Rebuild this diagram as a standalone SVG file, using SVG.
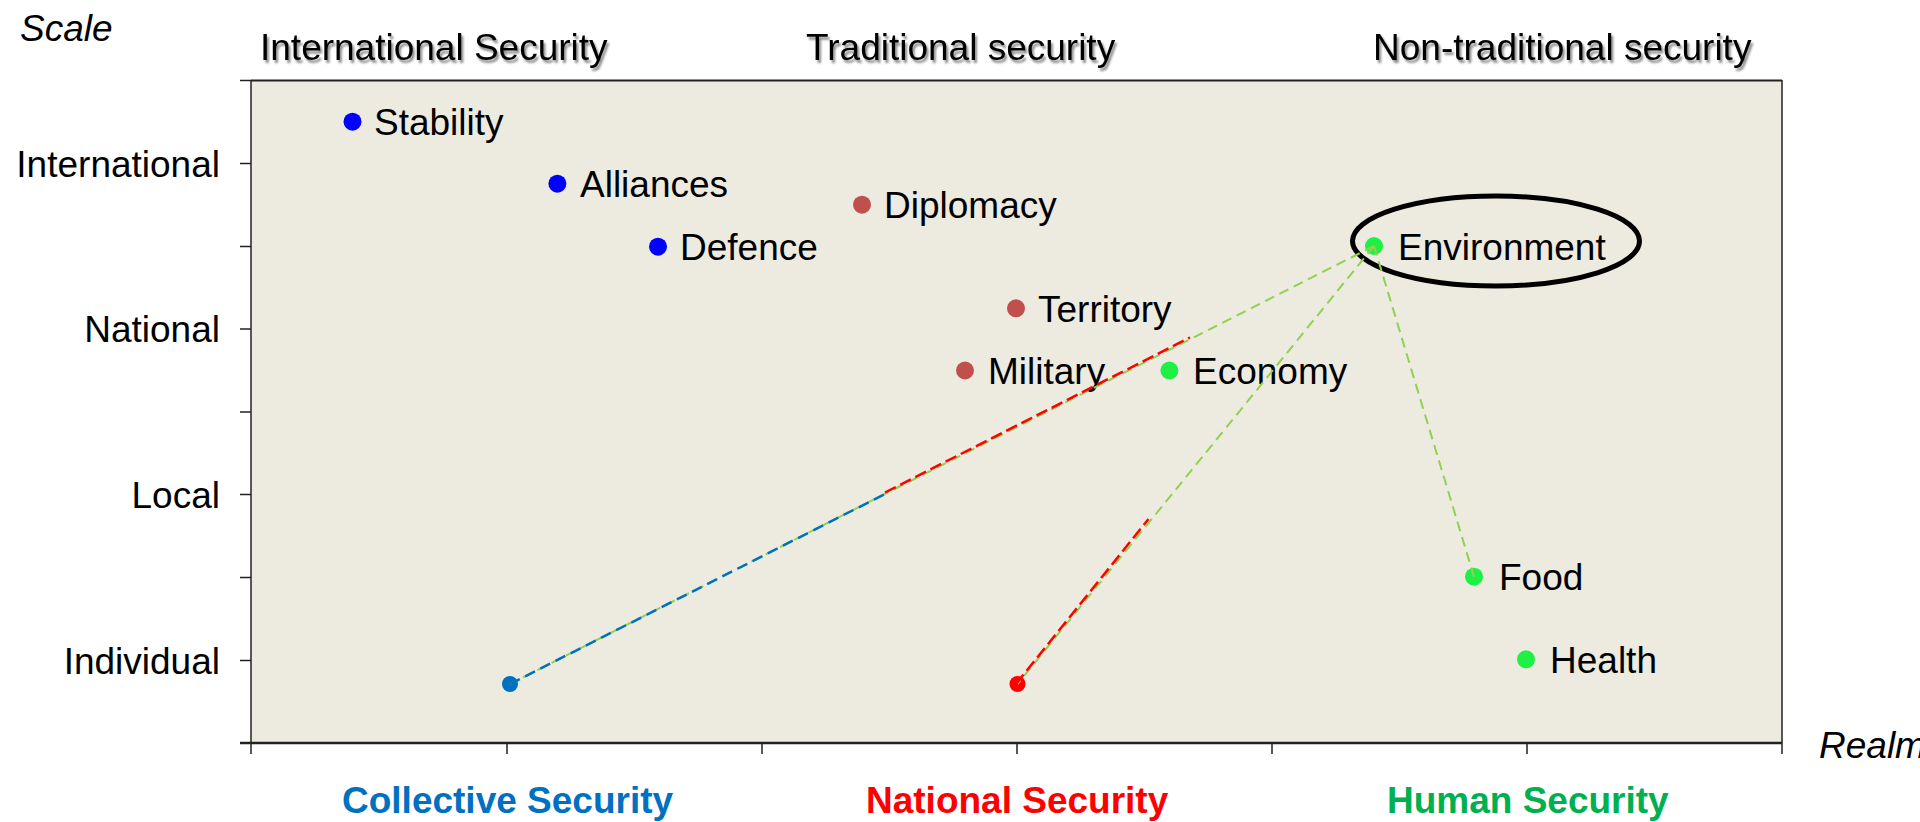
<svg xmlns="http://www.w3.org/2000/svg" width="1920" height="822" viewBox="0 0 1920 822">
<defs>
<filter id="sh" x="-5%" y="-30%" width="110%" height="170%">
<feDropShadow dx="2" dy="3" stdDeviation="1.2" flood-color="#000" flood-opacity="0.45"/>
</filter>
</defs>
<style>
text{font-family:"Liberation Sans",Arial,sans-serif;font-size:37px;fill:#000}
.it{font-style:italic}
.hd{filter:url(#sh)}
.b{font-weight:bold}
.ax{stroke:#222;fill:none}
.blue{fill:#0000FF}
.brown{fill:#C0504D}
.grn{fill:#1FF045}
.g{stroke:#92D050;stroke-width:2;fill:none;stroke-dasharray:10 6}
.r{stroke:#FF0000;stroke-width:2.5;fill:none;stroke-dasharray:12 5}
.bl{stroke:#0070C0;stroke-width:2.5;fill:none;stroke-dasharray:11 6}
</style>
<rect width="1920" height="822" fill="#FFFFFF"/>
<g id="plot">
<rect x="251" y="80" width="1531" height="663" fill="#EDEBE0"/>
<line class="ax" x1="251" y1="80.5" x2="1782" y2="80.5" stroke-width="2"/>
<line class="ax" x1="251" y1="80" x2="251" y2="754" stroke-width="1.5"/>
<line class="ax" x1="1782" y1="80" x2="1782" y2="754" stroke-width="1.5" stroke="#444"/>
<line class="ax" x1="240" y1="743" x2="1782" y2="743" stroke-width="2.5"/>
<g class="ax" stroke-width="1.5">
<path d="M240 80.5H251M240 163.5H251M240 246.5H251M240 329H251M240 412H251M240 494.5H251M240 577.5H251M240 660.5H251"/>
<path d="M507 743V754M762 743V754M1017 743V754M1272 743V754M1527 743V754"/>
</g>
</g>
<g id="axis-labels">
<text x="20" y="41" class="it">Scale</text>
<text x="220" y="177" text-anchor="end">International</text>
<text x="220" y="342" text-anchor="end">National</text>
<text x="220" y="508" text-anchor="end">Local</text>
<text x="220" y="674" text-anchor="end">Individual</text>
<text x="1819" y="758" class="it">Realm</text>
</g>
<g id="headers">
<text x="260" y="60" class="hd">International Security</text>
<text x="806" y="60" class="hd">Traditional security</text>
<text x="1373" y="60" class="hd">Non-traditional security</text>
</g>
<g id="categories">
<text x="342" y="813" class="b" fill="#0070C0" style="fill:#0070C0">Collective Security</text>
<text x="866" y="813" class="b" style="fill:#FF0000">National Security</text>
<text x="1387" y="813" class="b" style="fill:#00B050">Human Security</text>
</g>
<g id="node-stability"><circle cx="352.5" cy="121.7" r="9" class="blue"/><text x="374" y="135">Stability</text></g>
<g id="node-alliances"><circle cx="557.4" cy="183.7" r="9" class="blue"/><text x="580" y="197">Alliances</text></g>
<g id="node-defence"><circle cx="658" cy="246.7" r="9" class="blue"/><text x="680" y="260">Defence</text></g>
<g id="node-diplomacy"><circle cx="862" cy="204.7" r="9" class="brown"/><text x="884" y="218">Diplomacy</text></g>
<g id="node-territory"><circle cx="1016" cy="308.3" r="9" class="brown"/><text x="1038" y="322">Territory</text></g>
<g id="node-military"><circle cx="965" cy="370.5" r="9" class="brown"/><text x="988" y="384">Military</text></g>
<g id="node-economy"><circle cx="1169.4" cy="370.5" r="9" class="grn"/><text x="1193" y="384">Economy</text></g>
<g id="node-environment"><circle cx="1374" cy="246" r="9" class="grn"/><text x="1398" y="259.5">Environment</text><ellipse cx="1496" cy="241" rx="143.5" ry="45" fill="none" stroke="#000" stroke-width="5"/></g>
<g id="node-food"><circle cx="1474" cy="576.7" r="9" class="grn"/><text x="1499" y="590">Food</text></g>
<g id="node-health"><circle cx="1526" cy="659.3" r="9" class="grn"/><text x="1550" y="673">Health</text></g>
<g id="node-collective"><circle cx="510" cy="684" r="8" fill="#0070C0"/></g>
<g id="node-national"><circle cx="1017.5" cy="684" r="8" fill="#FF0000"/></g>
<g id="connectors">
<line class="g" x1="1374" y1="246" x2="510" y2="684"/>
<line class="g" x1="1374" y1="246" x2="1017.5" y2="684"/>
<line class="g" x1="1374" y1="246" x2="1474" y2="576.7"/>
<line class="bl" x1="510" y1="684" x2="885" y2="494"/>
<line class="r" x1="885" y1="492.5" x2="1190" y2="337.5"/>
<line class="r" x1="1016" y1="684" x2="1148.5" y2="519"/>
</g>
</svg>
